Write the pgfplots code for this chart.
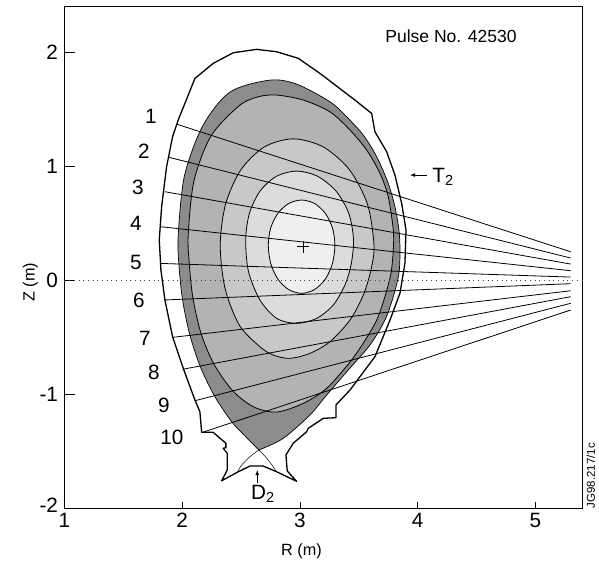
\documentclass[border=0pt]{standalone}
\usepackage{pgfplots}
\usepackage{fontspec}
\setmainfont{Liberation Sans}
\pgfplotsset{compat=1.18}
\definecolor{g0}{HTML}{8C8C8C}
\definecolor{g1}{HTML}{B3B3B3}
\definecolor{g2}{HTML}{C8C8C8}
\definecolor{g3}{HTML}{DCDCDC}
\definecolor{g4}{HTML}{EFEFEF}
\newcommand{\bigf}{\fontsize{20.8}{21}\selectfont}
\begin{document}
\begin{tikzpicture}
\path[use as bounding box] (-64.5bp,-55bp) rectangle (534.5bp,508bp);
\begin{axis}[
  at={(0,0)}, anchor=south west,
  scale only axis, width=517.5bp, height=501.5bp,
  xmin=1, xmax=5.396, ymin=-2, ymax=2.4,
  clip=false, axis line style={line width=0.8bp},
  xtick={1,2,3,4,5}, xticklabels={1,2,3,4,5},
  ytick={-2,-1,0,1,2}, yticklabels={\raisebox{6bp}{-2},-1,0,1,2},
  tick align=inside, xtick pos=left, ytick pos=left,
  xtick style={/pgfplots/major tick length=6bp, black, line width=0.7bp},
  ytick style={/pgfplots/major tick length=10bp, black, line width=0.7bp},
  tick label style={font=\bigf},
  xticklabel style={yshift=-2bp},
  yticklabel style={xshift=-3bp},
  xlabel={R (m)}, ylabel={Z (m)},
  label style={font=\fontsize{16.3}{17}\selectfont},
  xlabel style={at={(axis description cs:0.458,0)}, anchor=center, yshift=-43bp},
  ylabel style={at={(axis description cs:0,0.45)}, anchor=center, yshift=34bp},
]
% vessel wall
\addplot[black, line width=1.3bp, line join=round] coordinates {
(1.819,0.088)(1.853,-0.175)(1.918,-0.497)(2.009,-0.775)(2.108,-1.053)(2.150,-1.155)(2.165,-1.336)(2.263,-1.336)(2.306,-1.375)(2.371,-1.432)(2.371,-1.471)(2.348,-1.476)(2.382,-1.520)(2.382,-1.667)(2.335,-1.761)(2.476,-1.682)(2.575,-1.632)(2.688,-1.632)(2.802,-1.682)(2.972,-1.766)(2.892,-1.675)(2.881,-1.535)(2.943,-1.432)(3.057,-1.331)(3.071,-1.301)(3.198,-1.213)(3.306,-1.208)(3.306,-1.096)(3.425,-0.965)(3.637,-0.673)(3.765,-0.351)(3.850,-0.114)(3.892,0.149)(3.901,0.439)(3.864,0.673)(3.807,0.921)(3.737,1.125)(3.637,1.301)(3.609,1.462)(3.467,1.579)(3.170,1.813)(2.986,1.945)(2.802,2.003)(2.632,2.024)(2.433,1.994)(2.263,1.901)(2.108,1.769)(1.966,1.404)(1.918,1.257)(1.867,0.994)(1.825,0.643)(1.805,0.351)(1.819,0.088)};
% plasma boundary
\addplot[draw=black, line width=0.7bp, fill=g0, smooth] coordinates {
(2.652,-1.491)(2.533,-1.368)(2.420,-1.243)(2.278,-1.024)(2.156,-0.766)(2.065,-0.482)(2.003,-0.175)(1.972,0.132)(1.966,0.395)(2.019,0.915)(2.176,1.356)(2.408,1.651)(2.745,1.754)(2.972,1.719)(3.255,1.564)(3.397,1.432)(3.538,1.272)(3.652,1.082)(3.750,0.848)(3.807,0.643)(3.841,0.439)(3.850,0.263)(3.841,0.059)(3.793,-0.146)(3.722,-0.351)(3.595,-0.570)(3.425,-0.772)(3.227,-1.009)(3.085,-1.184)(2.858,-1.389)(2.652,-1.491)};
% flux surfaces
\addplot[draw=black, line width=0.8bp, fill=g1, smooth cycle] coordinates {
(3.793,0.263)(3.793,0.439)(3.750,0.731)(3.680,0.936)(3.567,1.140)(3.425,1.316)(3.255,1.476)(3.028,1.579)(2.802,1.623)(2.646,1.608)(2.484,1.529)(2.244,1.263)(2.099,0.865)(2.051,0.395)(2.061,0.132)(2.091,-0.158)(2.159,-0.465)(2.269,-0.737)(2.431,-0.974)(2.609,-1.114)(2.802,-1.158)(3.028,-1.082)(3.227,-0.950)(3.425,-0.719)(3.544,-0.544)(3.652,-0.351)(3.722,-0.146)(3.773,0.059)};
\addplot[draw=black, line width=0.8bp, fill=g2, smooth cycle] coordinates {
(3.629,0.307)(3.574,0.664)(3.421,0.967)(3.198,1.168)(2.943,1.239)(2.698,1.168)(2.498,0.967)(2.368,0.664)(2.323,0.307)(2.364,-0.074)(2.485,-0.396)(2.660,-0.585)(2.773,-0.658)(2.915,-0.687)(3.085,-0.643)(3.255,-0.541)(3.425,-0.351)(3.538,-0.132)(3.603,0.088)};
\addplot[draw=black, line width=0.8bp, fill=g3, smooth cycle] coordinates {
(3.455,0.351)(3.416,0.582)(3.308,0.779)(3.150,0.910)(2.972,0.956)(2.800,0.910)(2.660,0.779)(2.570,0.582)(2.539,0.351)(2.563,0.074)(2.660,-0.175)(2.802,-0.336)(2.972,-0.380)(3.142,-0.336)(3.283,-0.219)(3.382,-0.044)(3.434,0.132)};
\addplot[draw=black, line width=0.8bp, fill=g4, smooth cycle] coordinates {
(3.297,0.307)(3.276,0.458)(3.215,0.586)(3.123,0.672)(3.014,0.702)(2.905,0.672)(2.813,0.586)(2.752,0.458)(2.731,0.307)(2.752,0.145)(2.813,0.007)(2.905,-0.084)(3.014,-0.117)(3.123,-0.084)(3.215,0.007)(3.276,0.145)};
% divertor legs
\addplot[black, line width=0.5bp, smooth] coordinates {(2.652,-1.491)(2.575,-1.550)(2.505,-1.623)(2.467,-1.689)};
\addplot[black, line width=0.5bp, smooth] coordinates {(2.652,-1.491)(2.731,-1.579)(2.802,-1.682)};
% lines of sight
\addplot[black, line width=0.8bp] coordinates {(1.952,1.368)(5.300,0.248)};
\addplot[black, line width=0.8bp] coordinates {(1.890,1.076)(5.300,0.193)};
\addplot[black, line width=0.8bp] coordinates {(1.853,0.775)(5.300,0.140)};
\addplot[black, line width=0.8bp] coordinates {(1.816,0.468)(5.300,0.082)};
\addplot[black, line width=0.8bp] coordinates {(1.816,0.146)(5.300,0.026)};
\addplot[black, line width=0.8bp] coordinates {(1.845,-0.175)(5.300,-0.032)};
\addplot[black, line width=0.8bp] coordinates {(1.918,-0.503)(5.300,-0.094)};
\addplot[black, line width=0.8bp] coordinates {(2.003,-0.783)(5.300,-0.146)};
\addplot[black, line width=0.8bp] coordinates {(2.108,-1.059)(5.300,-0.204)};
\addplot[black, line width=0.8bp] coordinates {(2.165,-1.339)(5.300,-0.263)};
% midplane
\addplot[black!75, line width=1bp, dash pattern=on 1bp off 3.7bp] coordinates {(1,0)(5.396,0)};
% magnetic axis
\addplot[only marks, mark=+, mark size=6bp, mark options={line width=1.2bp, black}] coordinates {(3.028,0.292)};
% arrows
\addplot[black, line width=0.8bp, -latex] coordinates {(4.076,0.921)(3.935,0.921)};
\addplot[black, line width=0.8bp, -latex] coordinates {(2.637,-1.781)(2.637,-1.667)};
% labels
\node[font=\bigf] at (axis cs:1.734,1.439) {1};
\node[font=\bigf] at (axis cs:1.675,1.132) {2};
\node[font=\bigf] at (axis cs:1.624,0.816) {3};
\node[font=\bigf] at (axis cs:1.607,0.5) {4};
\node[font=\bigf] at (axis cs:1.607,0.158) {5};
\node[font=\bigf] at (axis cs:1.632,-0.175) {6};
\node[font=\bigf] at (axis cs:1.683,-0.509) {7};
\node[font=\bigf] at (axis cs:1.760,-0.807) {8};
\node[font=\bigf] at (axis cs:1.845,-1.096) {9};
\node[font=\bigf] at (axis cs:1.913,-1.377) {10};
\node[font=\fontsize{17.6}{18}\selectfont] at (axis cs:4.283,2.14) {Pulse No. 42530};
\node[font=\bigf] at (axis cs:4.215,0.904) {T\textsubscript{2}};
\node[font=\bigf] at (axis cs:2.686,-1.877) {D\textsubscript{2}};
\node[font=\fontsize{11.5}{12}\selectfont, rotate=90] at (axis cs:5.470,-1.716) {JG98.217/1c};
\end{axis}
\end{tikzpicture}
\end{document}
